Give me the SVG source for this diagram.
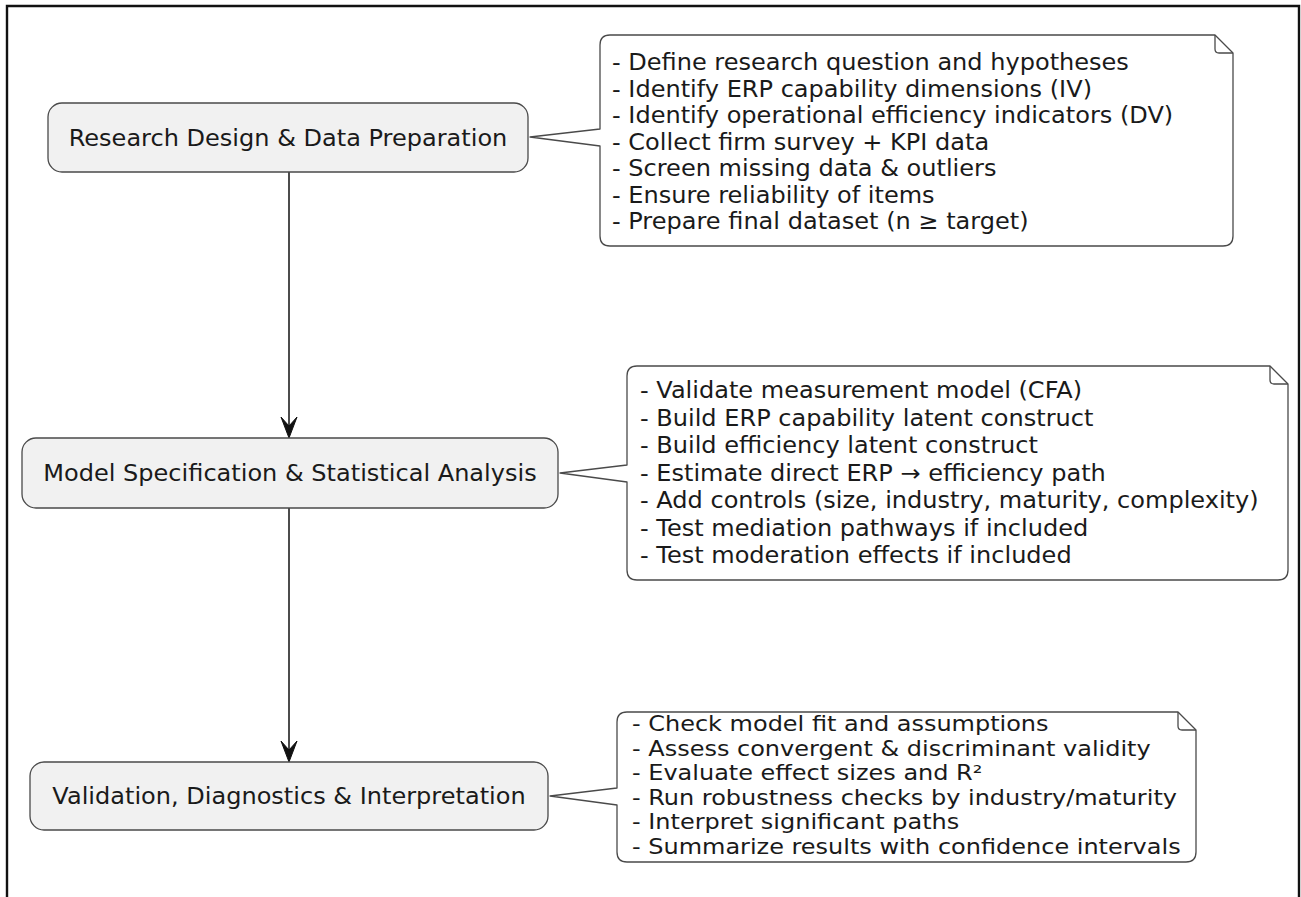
<svg xmlns="http://www.w3.org/2000/svg" width="1301" height="897" viewBox="0 0 1301 897">
  <defs>
    <style>
      .frame { fill: none; stroke: #111; stroke-width: 2.4; }
      .act { fill: #f1f1f1; stroke: #4a4a4a; stroke-width: 1.3; }
      .note { fill: #ffffff; stroke: #4a4a4a; stroke-width: 1.3; stroke-linejoin: round; }
      .fold { fill: none; stroke: #4a4a4a; stroke-width: 1.3; }
      .flow { stroke: #111; stroke-width: 1.5; fill: none; }
      .head { fill: #111; stroke: #111; stroke-width: 1; stroke-linejoin: round; }
      text { font-family: "DejaVu Sans", "Noto Sans", sans-serif; font-size: 23px; fill: #1a1a1a; }
      .lbl { text-anchor: middle; }
      .tight text { font-size: 20.5px; }
    </style>
  </defs>

  <rect x="0" y="0" width="1301" height="897" fill="#ffffff"/>
  <!-- outer frame, open at the bottom -->
  <path class="frame" d="M7,897 V6 H1299 V897"/>

  <!-- flow connectors -->
  <g id="connectors">
    <path class="flow" d="M289,172 V430"/>
    <path class="head" d="M281,417 L289,438 L297,417 L289,426 Z"/>
    <path class="flow" d="M289,508 V754"/>
    <path class="head" d="M281,741 L289,762 L297,741 L289,750 Z"/>
  </g>

  <!-- activities -->
  <g id="act-research">
    <rect class="act" x="48" y="103" width="480" height="69" rx="14"/>
    <text class="lbl" transform="translate(288,145.5) scale(1.045,1)">Research Design &amp; Data Preparation</text>
  </g>
  <g id="act-model">
    <rect class="act" x="22" y="438" width="536" height="70" rx="14"/>
    <text class="lbl" transform="translate(290,481) scale(1.045,1)">Model Specification &amp; Statistical Analysis</text>
  </g>
  <g id="act-validation">
    <rect class="act" x="30" y="762" width="518" height="68" rx="14"/>
    <text class="lbl" transform="translate(289,804) scale(1.045,1)">Validation, Diagnostics &amp; Interpretation</text>
  </g>

  <!-- notes -->
  <g id="note-research">
    <path class="note" d="M610,35 H1215 L1233,53 V236 Q1233,246 1223,246 H610 Q600,246 600,236 V146 L530,137 L600,129 V45 Q600,35 610,35 Z"/>
    <path class="fold" d="M1215,35 V49 Q1215,53 1219,53 H1233"/>
    <g transform="translate(612,0) scale(1.045,1)">
      <text x="0" y="70.5">- Define research question and hypotheses</text>
      <text x="0" y="97">- Identify ERP capability dimensions (IV)</text>
      <text x="0" y="123.5">- Identify operational efficiency indicators (DV)</text>
      <text x="0" y="150">- Collect firm survey + KPI data</text>
      <text x="0" y="176.5">- Screen missing data &amp; outliers</text>
      <text x="0" y="203">- Ensure reliability of items</text>
      <text x="0" y="229.5">- Prepare final dataset (n ≥ target)</text>
    </g>
  </g>

  <g id="note-model">
    <path class="note" d="M637,366 H1270 L1288,384 V570 Q1288,580 1278,580 H637 Q627,580 627,570 V482 L560,473 L627,465 V376 Q627,366 637,366 Z"/>
    <path class="fold" d="M1270,366 V380 Q1270,384 1274,384 H1288"/>
    <g transform="translate(640,0) scale(1.045,1)">
      <text x="0" y="398.5">- Validate measurement model (CFA)</text>
      <text x="0" y="426">- Build ERP capability latent construct</text>
      <text x="0" y="453.5">- Build efficiency latent construct</text>
      <text x="0" y="481">- Estimate direct ERP → efficiency path</text>
      <text x="0" y="508.5">- Add controls (size, industry, maturity, complexity)</text>
      <text x="0" y="536">- Test mediation pathways if included</text>
      <text x="0" y="563.5">- Test moderation effects if included</text>
    </g>
  </g>

  <g id="note-validation">
    <path class="note" d="M627,712 H1178 L1196,730 V852 Q1196,862 1186,862 H627 Q617,862 617,852 V805 L550,796 L617,788 V722 Q617,712 627,712 Z"/>
    <path class="fold" d="M1178,712 V726 Q1178,730 1182,730 H1196"/>
    <g class="tight" transform="translate(632,0) scale(1.17,1)">
      <text x="0" y="731.5">- Check model fit and assumptions</text>
      <text x="0" y="756">- Assess convergent &amp; discriminant validity</text>
      <text x="0" y="780.5">- Evaluate effect sizes and R²</text>
      <text x="0" y="805">- Run robustness checks by industry/maturity</text>
      <text x="0" y="829.5">- Interpret significant paths</text>
      <text x="0" y="854">- Summarize results with confidence intervals</text>
    </g>
  </g>
</svg>
